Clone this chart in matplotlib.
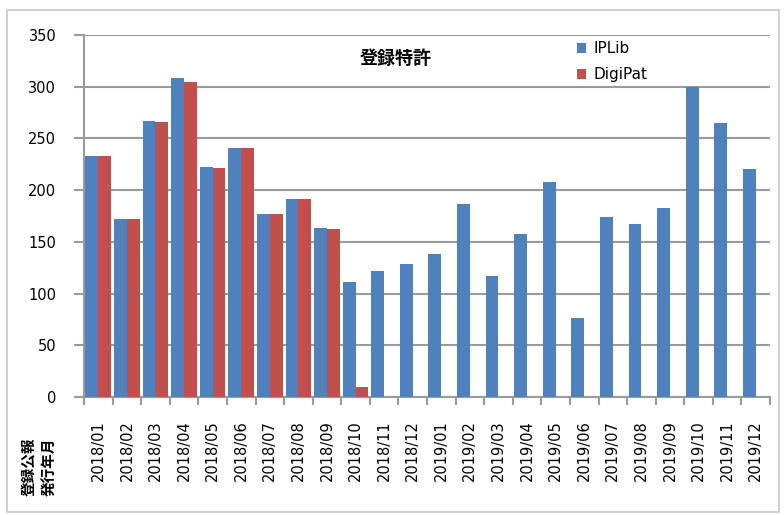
import matplotlib
matplotlib.use("Agg")
import matplotlib.pyplot as plt
import numpy as np
from matplotlib.patches import Rectangle

plt.rcParams['font.family'] = ['Noto Sans CJK JP', 'DejaVu Sans']

months = ["2018/01","2018/02","2018/03","2018/04","2018/05","2018/06","2018/07","2018/08",
          "2018/09","2018/10","2018/11","2018/12","2019/01","2019/02","2019/03","2019/04",
          "2019/05","2019/06","2019/07","2019/08","2019/09","2019/10","2019/11","2019/12"]
iplib = [233,172,267,308,222,241,177,191,163,111,122,129,138,187,117,158,208,76,174,167,183,300,265,220]
digipat = [233,172,266,305,221,241,177,191,162,10]

fig = plt.figure(figsize=(7.84,5.15), dpi=100)
W, H = 784, 515
ax = fig.add_axes([84/W, 1-397/H, (770-84)/W, (397-35)/H])

x = np.arange(len(months))
bw = 0.45
ax.bar(x - bw/2, iplib, width=bw, color='#4F81BD', label='IPLib', zorder=3)
ax.bar(x[:len(digipat)] + bw/2, digipat, width=bw, color='#C0504D', label='DigiPat', zorder=3)

ax.set_xlim(-0.5, len(months)-0.5)
ax.set_ylim(0, 350)
ax.set_yticks(range(0, 351, 50))
ax.yaxis.grid(True, color='#9a9a9a', linewidth=1.5, zorder=0)
ax.set_xticks(x)
ax.set_xticklabels(months, rotation=90, fontsize=10.5, fontfamily='DejaVu Sans')
ax.set_xticks(np.arange(-0.5, len(months)), minor=True)
ax.tick_params(axis='x', which='major', length=0, pad=17)
ax.tick_params(axis='x', which='minor', length=6, color='#9a9a9a', width=1.5)
ax.tick_params(axis='y', length=7, color='#9a9a9a', width=1.5, labelsize=10.5, pad=13)
for t in ax.get_yticklabels():
    t.set_fontfamily('DejaVu Sans')
for s in ['top', 'right']:
    ax.spines[s].set_visible(False)
ax.spines['left'].set_color('#9a9a9a')
ax.spines['left'].set_linewidth(1.5)
ax.spines['bottom'].set_color('#9a9a9a')
ax.spines['bottom'].set_linewidth(1.5)

fig.text(396/W, 1-58/H, '登録特許', ha='center', va='center', fontsize=13, fontweight='bold')
leg = ax.legend(loc='upper left', bbox_to_anchor=((566-84)/(770-84), 1.012),
                frameon=False, fontsize=11, handlelength=0.6, handleheight=0.6,
                handletextpad=0.5, labelspacing=0.7, borderaxespad=0.3)
for t in leg.get_texts():
    t.set_fontfamily('DejaVu Sans')

fig.text(39/W, 1-467/H, '登録公報\n発行年月', rotation=90, ha='center', va='center',
         fontsize=10.5, fontweight='bold', linespacing=1.35)

fig.patches.append(Rectangle((7/W, 3/H), (779-7)/W, (505-3)/H, transform=fig.transFigure,
                             fill=False, edgecolor='#c8c8c8', linewidth=1.2))

fig.savefig('out.png', dpi=100)
